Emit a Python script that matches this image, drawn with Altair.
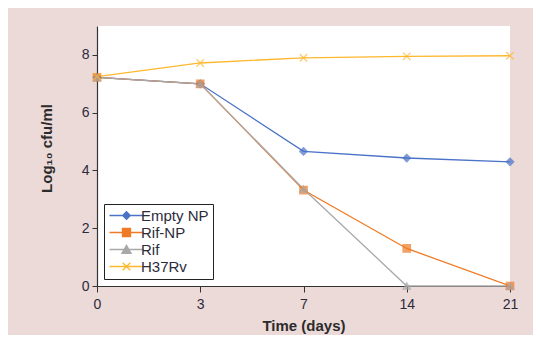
import altair as alt
import pandas as pd

days = ["0", "3", "7", "14", "21"]
series_names = ["Empty NP", "Rif-NP", "Rif", "H37Rv"]
empty_np = [7.22, 7.0, 4.66, 4.43, 4.30]
rif_np = [7.22, 7.0, 3.32, 1.30, 0.0]
rif = [7.22, 7.0, 3.36, 0.0, 0.0]
h37rv = [7.25, 7.72, 7.90, 7.95, 7.97]

colors = ["#4a72c6", "#f07a24", "#a8a8a8", "#fdb82e"]
point_shapes = ["diamond", "square", "triangle-up", "M-1,-1L1,1M-1,1L1,-1"]
legend_shapes = [
    "M-4.25,0H4.25M0,-0.95L0.95,0L0,0.95L-0.95,0Z",
    "M-4.25,0H4.25M-1,-1H1V1H-1Z",
    "M-4.25,0H4.25M0,-1.05L1.15,0.95L-1.15,0.95Z",
    "M-4.25,0H4.25M-0.95,-0.95L0.95,0.95M-0.95,0.95L0.95,-0.95",
]

rows = []
for name, vals in zip(series_names, [empty_np, rif_np, rif, h37rv]):
    for d, v in zip(days, vals):
        rows.append({"day": d, "value": v, "series": name, "leg": name})
df = pd.DataFrame(rows)

x_enc = alt.X(
    "day:O",
    sort=days,
    scale=alt.Scale(type="point", padding=0, domain=days),
    axis=alt.Axis(
        title="Time (days)", labelAngle=0, tickSize=6, labelPadding=5,
        titlePadding=7, grid=False,
    ),
)
y_enc = alt.Y(
    "value:Q",
    scale=alt.Scale(domain=[0, 9], nice=False),
    axis=alt.Axis(
        title="Log₁₀ cfu/ml", values=[0, 2, 4, 6, 8], tickSize=5,
        labelPadding=3, titlePadding=27, titleY=122, grid=False,
    ),
)

base = alt.Chart(df).encode(x=x_enc, y=y_enc)

lines = base.mark_line(strokeWidth=1.3).encode(
    stroke=alt.Stroke("series:N", scale=alt.Scale(domain=series_names, range=colors), legend=None),
    detail="series:N",
)

points = base.mark_point(filled=True, size=55, strokeWidth=1.3).encode(
    fill=alt.Fill("series:N", scale=alt.Scale(domain=series_names, range=colors), legend=None),
    stroke=alt.Stroke("series:N", scale=alt.Scale(domain=series_names, range=colors), legend=None),
    shape=alt.Shape("series:N", scale=alt.Scale(domain=series_names, range=point_shapes), legend=None),
)

legend_props = dict(
    title=None, orient="none", legendX=7, legendY=178,
    strokeColor="#222222", padding=4, symbolSize=64, symbolOffset=11,
    labelOffset=7, symbolStrokeWidth=1.3, symbolOpacity=1,
    labelFontSize=15, labelFont="Liberation Sans", labelColor="#2b2b3b",
    rowPadding=1, fillColor="white",
)

legend_layer = base.mark_point(filled=True, size=64, opacity=0).encode(
    fill=alt.Fill("leg:N", scale=alt.Scale(domain=series_names, range=colors), legend=alt.Legend(**legend_props)),
    stroke=alt.Stroke("leg:N", scale=alt.Scale(domain=series_names, range=colors), legend=alt.Legend(**legend_props)),
    shape=alt.Shape("leg:N", scale=alt.Scale(domain=series_names, range=legend_shapes), legend=alt.Legend(**legend_props)),
)

chart = (
    alt.layer(lines, points, legend_layer)
    .resolve_scale(fill="independent", stroke="independent", shape="independent")
    .properties(
        width=413, height=260,
        background="#ecdad8",
        padding={"left": 89, "top": 18, "right": 23, "bottom": 49},
        autosize=alt.AutoSizeParams(type="none"),
    )
    .configure_view(fill="white", stroke=None)
    .configure_axis(
        domainColor="#333333", tickColor="#333333", labelColor="#2b2b3b",
        titleColor="#2b2b2b", labelFont="Liberation Sans", titleFont="Liberation Sans",
        labelFontSize=14, titleFontSize=15, titleFontWeight="bold",
        domainWidth=1.2, tickWidth=1,
    )
)

chart.save("out.html", embed_options={"renderer": "svg", "actions": False})
